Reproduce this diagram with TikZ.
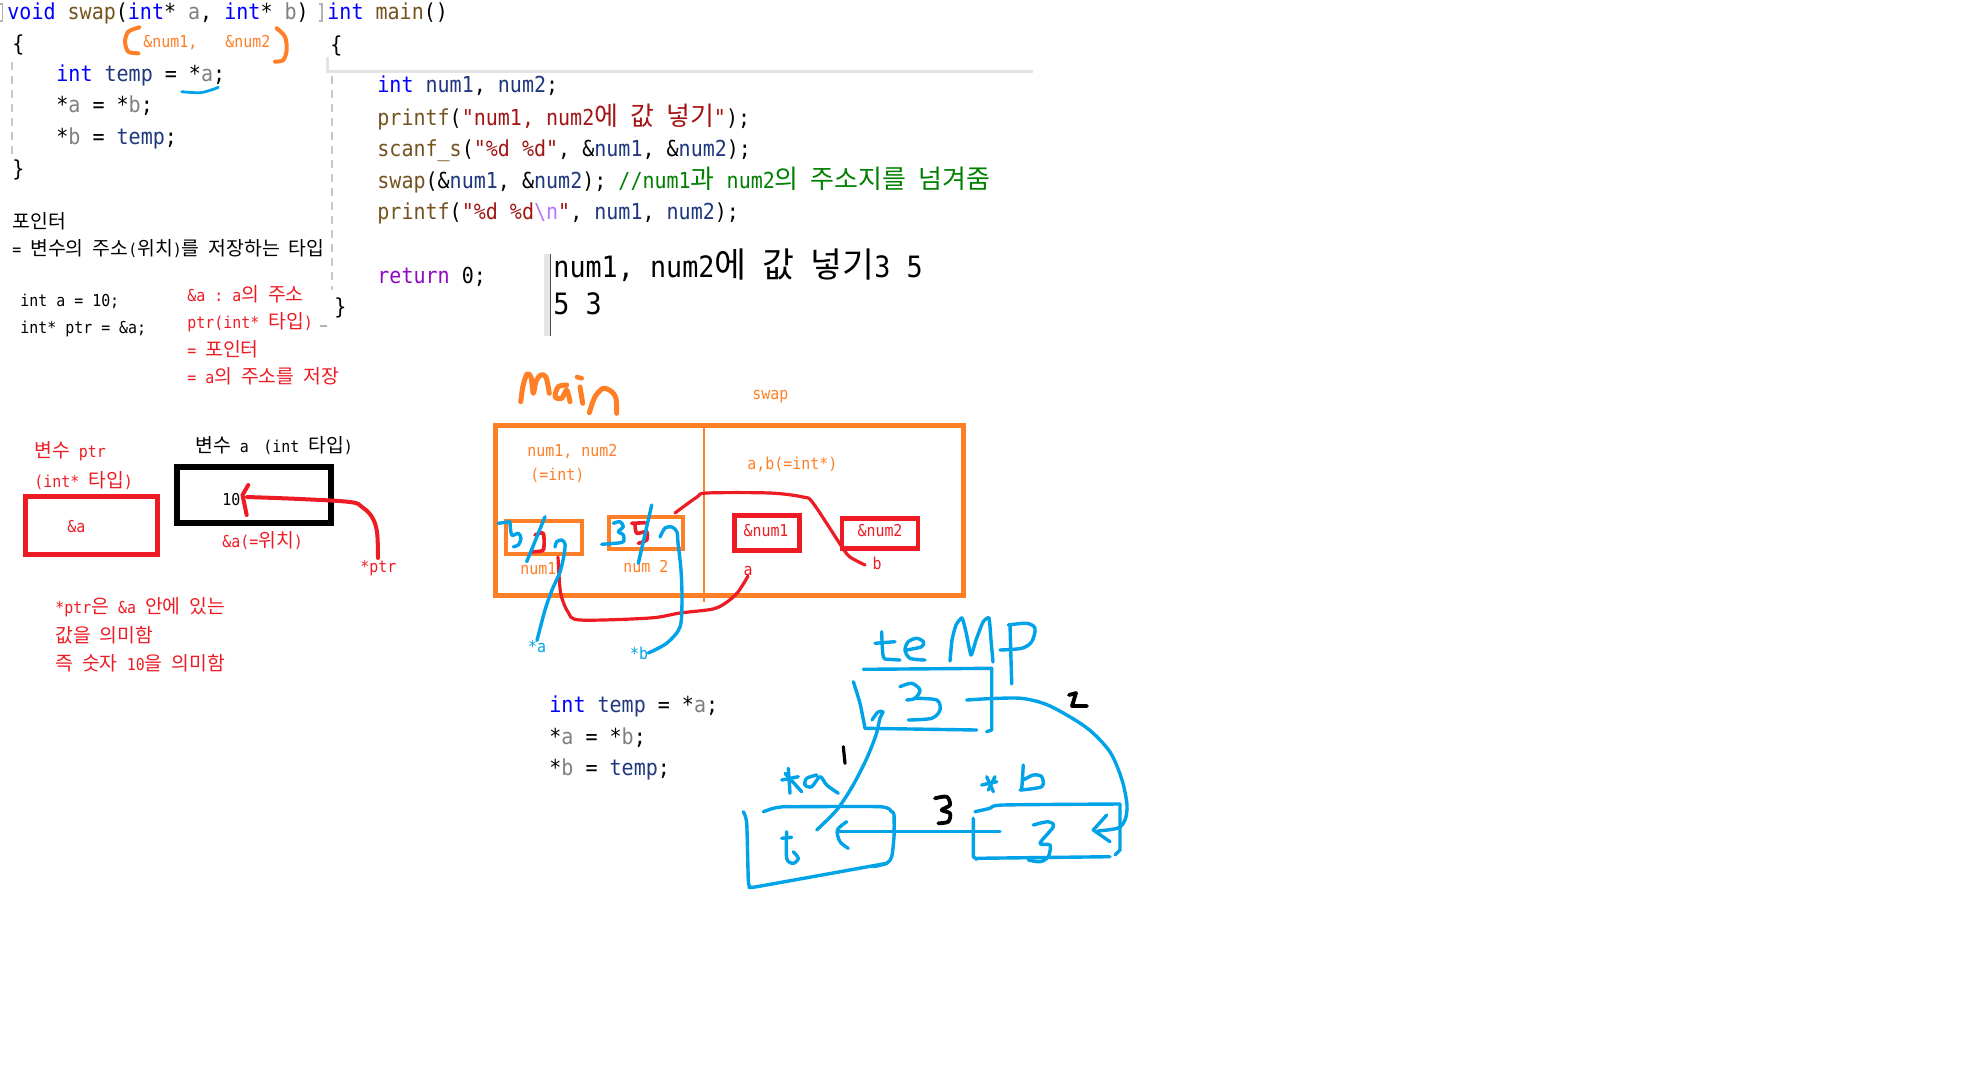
\documentclass[tikz,border=0pt]{standalone}
\usepackage{fontspec}
\setmonofont[FakeStretch=0.91]{DejaVu Sans Mono}
\newfontfamily\kr[Scale=1.18]{Noto Sans CJK KR}
\newcommand\K[1]{{\kr #1}}
\definecolor{ckw}{RGB}{0,0,255}
\definecolor{cfn}{RGB}{116,83,31}
\definecolor{cvr}{RGB}{31,55,127}
\definecolor{cpr}{RGB}{128,128,128}
\definecolor{cst}{RGB}{163,21,21}
\definecolor{ccm}{RGB}{0,128,0}
\definecolor{ces}{RGB}{183,118,251}
\definecolor{crt}{RGB}{143,8,196}
\definecolor{pred}{RGB}{237,28,36}
\definecolor{porg}{RGB}{255,127,39}
\definecolor{pblue}{RGB}{0,162,232}
\newcommand\KW[1]{\textcolor{ckw}{#1}}
\newcommand\FN[1]{\textcolor{cfn}{#1}}
\newcommand\VR[1]{\textcolor{cvr}{#1}}
\newcommand\PR[1]{\textcolor{cpr}{#1}}
\newcommand\ST[1]{\textcolor{cst}{#1}}
\newcommand\CM[1]{\textcolor{ccm}{#1}}
\newcommand\ES[1]{\textcolor{ces}{#1}}
\newcommand\RT[1]{\textcolor{crt}{#1}}
\newcommand\codefont{\ttfamily\fontsize{11}{13}\selectfont}
\newcommand\smallfont{\ttfamily\fontsize{8.2}{10}\selectfont}
\newcommand\confont{\ttfamily\fontsize{14.7}{18}\selectfont}
\begin{document}
\begin{tikzpicture}[x=0.5pt,y=-0.5pt,
  code/.style={anchor=base west,inner sep=0pt,font=\codefont},
  small/.style={anchor=base west,inner sep=0pt,font=\smallfont},
  smallc/.style={anchor=center,inner sep=0pt,font=\smallfont},
  con/.style={anchor=base west,inner sep=0pt,font=\confont},
  hand/.style={line cap=round,line join=round},
  bl/.style={hand,pblue,line width=1.7pt},
  rd/.style={hand,pred,line width=1.6pt},
  bk/.style={hand,black,line width=1.9pt}]
\fill[white] (0,0) rectangle (1964,1072);
\useasboundingbox (0,0) rectangle (1964,1072);

% editor decorations
\draw[gray!60,line width=0.6pt] (0,4)--(2.5,4)--(2.5,21)--(0,21);
\draw[gray!60,line width=0.6pt] (319,4)--(322,4)--(322,21)--(319,21);
\draw[gray!45,dash pattern=on 4pt off 3pt,line width=0.7pt] (12,62)--(12,158);
\draw[gray!45,dash pattern=on 4pt off 3pt,line width=0.7pt] (332,76)--(332,290);
\draw[gray!22,line width=1.5pt] (327,57)--(327,71)--(1033,71);
\draw[gray!60,line width=0.6pt] (320,326)--(327,326);

% swap function
\node[code] (sw1) at (7,19) {\KW{void} \FN{swap}(\KW{int}* \PR{a}, \KW{int}* \PR{b})};
\node[code] (sw2) at (12,51) {\{};
\node[code] (sw3) at (56,81.5) {\KW{int} \VR{temp} = *\PR{a};};
\node[code] (sw4) at (56,112.5) {*\PR{a} = *\PR{b};};
\node[code] (sw5) at (56,144) {*\PR{b} = \VR{temp};};
\node[code] (sw6) at (12,176) {\}};
% orange argument note
\node[small,text=porg] (an1) at (143,47) {\&num1,};
\node[small,text=porg] (an2) at (225,47) {\&num2};
\draw[hand,porg,line width=2pt] plot[smooth] coordinates {(139.3,27.3) (128.3,31.7) (125,41.7) (128.3,51.7) (138.3,53.3)};
\draw[hand,porg,line width=2pt] plot[smooth] coordinates {(276.7,28.3) (285,36.7) (286.7,50) (283.3,60) (275,61.7)};
\draw[bl,line width=1.4pt] plot[smooth] coordinates {(181.7,91.7) (200,92.7) (213.3,89.3) (218.3,87.3)};

% main function
\node[code] (mn1) at (327,19) {\KW{int} \FN{main}()};
\node[code] (mn2) at (330,52) {\{};
\node[code] (mn3) at (377,92) {\KW{int} \VR{num1}, \VR{num2};};
\node[code] (mn4) at (377,125) {\FN{printf}(\ST{"num1, num2\K{에} \K{값} \K{넣기}"});};
\node[code] (mn5) at (377,156) {\FN{scanf\_s}(\ST{"\%d \%d"}, \&\VR{num1}, \&\VR{num2});};
\node[code] (mn6) at (377,188) {\FN{swap}(\&\VR{num1}, \&\VR{num2}); \CM{//num1\K{과} num2\K{의} \K{주소지를} \K{넘겨줌}}};
\node[code] (mn7) at (377,219) {\FN{printf}(\ST{"\%d \%d}\ES{\textbackslash n}\ST{"}, \VR{num1}, \VR{num2});};
\node[code] (mn8) at (377,283) {\RT{return} 0;};
\node[code] (mn9) at (334,314) {\}};

% console
\fill[gray!20] (544,254) rectangle (550,336);
\draw[gray!60!black,line width=0.8pt] (550.5,254)--(550.5,336);
\node[con] (co1) at (553,277) {num1, num2\K{에} \K{값} \K{넣기}3 5};
\node[con] (co2) at (553,314) {5 3};

% pointer explanation
\node[small] (p1) at (12,228) {\K{포인터}};
\node[small] (p2) at (12,255) {= \K{변수의} \K{주소}(\K{위치})\K{를} \K{저장하는} \K{타입}};
\node[small] (p3) at (20,306) {int a = 10;};
\node[small] (p4) at (20,333) {int* ptr = \&a;};
\node[small,text=pred] (r1) at (187,301) {\&a : a\K{의} \K{주소}};
\node[small,text=pred] (r2) at (187,328) {ptr(int* \K{타입})};
\node[small,text=pred] (r3) at (187,356) {= \K{포인터}};
\node[small,text=pred] (r4) at (187,383) {= a\K{의} \K{주소를} \K{저장}};

% ptr / a boxes
\node[small,text=pred] (v1) at (34,457) {\K{변수} ptr};
\node[small,text=pred] (v2) at (34,487) {(int* \K{타입})};
\draw[pred,line width=2.5pt] (25,496) rectangle (157,554);
\node[small,text=pred] (va) at (67,532) {\&a};
\node[small] (v3) at (195,452) {\K{변수} a};
\node[small] (v4) at (263,452) {(int \K{타입})};
\draw[black,line width=3pt] (177,467) rectangle (331,523);
\node[small] (ten) at (222,505) {10};
\node[small,text=pred] (v5) at (222,547) {\&a(=\K{위치})};
\node[small,text=pred] (v6) at (360,572) {*ptr};
\draw[rd,line width=2pt] plot[smooth,tension=0.6] coordinates {(378,558) (377,532) (372,517) (362,507) (350,502) (300,499) (247,497)};
\draw[rd,line width=2pt] (248.3,485)--(242.5,495)--(246.7,515);
\node[small,text=pred] (e1) at (55,613) {*ptr\K{은} \&a \K{안에} \K{있는}};
\node[small,text=pred] (e2) at (55,642) {\K{값을} \K{의미함}};
\node[small,text=pred] (e3) at (55,670) {\K{즉} \K{숫자} 10\K{을} \K{의미함}};

% main / swap frames
\draw[hand,porg,line width=2.5pt] plot[smooth,tension=0.5] coordinates {(520.7,401.7) (523,386) (527,374) (531,377) (533.3,393.3) (536,381) (541,375) (546,377) (549.3,393.3)};
\draw[hand,porg,line width=2.5pt] plot[smooth,tension=0.5] coordinates {(566.7,385) (558.3,386.7) (555,396.7) (561.7,398.3) (566.7,390) (570,401.7)};
\draw[hand,porg,line width=2.3pt] (577,377)--(581.7,378.3);
\draw[hand,porg,line width=2.5pt] (580,387)--(582.7,403.3);
\draw[hand,porg,line width=2.5pt] plot[smooth,tension=0.5] coordinates {(589.3,412.7) (595,396.7) (603.3,388.3) (611.7,391.7) (616,398.3) (616.7,413.3)};
\node[small,text=porg] (swl) at (752,399) {swap};
\draw[porg,line width=2.5pt] (495,425) rectangle (963,595);
\draw[porg,line width=1.4pt] (704,428)--(704,602);
\node[small,text=porg] (o1) at (527,456.5) {num1, num2};
\node[small,text=porg] (o2) at (530,480) {(=int)};
\node[small,text=porg] (o3) at (747,469) {a,b(=int*)};
\draw[porg,line width=2pt] (506,521) rectangle (582,554);
\draw[porg,line width=2pt] (609,517) rectangle (683,549);
\node[small,text=porg] (o4) at (520,574) {num1};
\node[small,text=porg] (o5) at (623,572) {num 2};
\draw[pred,line width=2.3pt] (734.5,515.5) rectangle (799.5,550.5);
\draw[pred,line width=2.3pt] (842,518.5) rectangle (918,548.5);
\node[smallc,text=pred] (pn1) at (766,531) {\&num1};
\node[smallc,text=pred] (pn2) at (880,531) {\&num2};
\node[smallc,text=pred] (la) at (748,571) {a};
\node[smallc,text=pred] (lb) at (877,563) {b};
\node[smallc,text=pblue] (sa) at (537,647) {*a};
\node[smallc,text=pblue] (sb) at (639,653) {*b};

% red pointer curves
\draw[rd] plot[smooth,tension=0.5] coordinates {(la.south) (738,592) (727,602) (713,609) (680,613) (650,618) (580,620) (568,612) (561,595) (559,575) (558,557)};
\draw[rd] plot[smooth,tension=0.5] coordinates {(865,565) (850,557) (842,547) (813,503) (803,497) (770,493) (707,493) (697,497) (675,513)};
% values in num boxes
\draw[rd,line width=1.8pt] plot[smooth,tension=0.4] coordinates {(535,535) (543.3,533.3) (543.3,550) (531.7,551.7)};
\draw[rd,line width=1.8pt] (631.7,523.3)--(645,522.7);
\draw[rd,line width=1.8pt] plot[smooth,tension=0.4] coordinates {(635,525) (636.7,533.3) (646.7,531.7) (646.7,540) (638.3,543.3)};
\draw[bl] (498.3,523.3)--(510,521.7);
\draw[bl] plot[smooth,tension=0.5] coordinates {(510,522.7) (511.7,535) (518.3,533.3) (521,538.3) (518.3,545) (513.3,546.7)};
\draw[bl] (526.7,561.7)--(545,516.7);
\draw[bl] plot[smooth,tension=0.5] coordinates {(sa.north) (545,610) (552,590) (560,572) (564,555) (565,544) (561.7,540) (556.7,541.7) (555,547)};
\draw[bl] plot[smooth,tension=0.5] coordinates {(613.3,523.3) (620,521.7) (623.3,526.7) (618.3,531.7) (623.3,535) (623.3,541.7) (615,543.3)};
\draw[bl] (601.7,544.3)--(615,543.3);
\draw[bl] (638.3,563.3)--(651.7,505);
\draw[bl] plot[smooth,tension=0.5] coordinates {(sb.east) (667,643) (680,627) (682,600) (681,570) (678,543) (677,532) (672,527) (665,528) (660,537)};

% swap body copy
\node[code] (t1) at (549,712) {\KW{int} \VR{temp} = *\PR{a};};
\node[code] (t2) at (549,744) {*\PR{a} = *\PR{b};};
\node[code] (t3) at (549,775) {*\PR{b} = \VR{temp};};

% temp sketch
\draw[bl] plot[smooth,tension=0.5] coordinates {(881.7,631.7) (883.3,656.7) (890,659.3) (900,660)};
\draw[bl] (875,643.3)--(895,641.7);
\draw[bl] plot[smooth,tension=0.5] coordinates {(906.7,650) (921.7,646.7) (923.3,641.7) (916.7,638.3) (908.3,641.7) (905,650) (910,658.3) (925,660)};
\draw[bl] plot[smooth,tension=0.3] coordinates {(950,661) (952,640) (956,625) (962,618) (966,632) (971,655) (976,640) (983,622) (989,618) (991,640) (993,662)};
\draw[bl] (1010,625)--(1011.7,684);
\draw[bl] plot[smooth,tension=0.5] coordinates {(1008.3,625) (1026.7,623.3) (1035,628.3) (1031.7,641.7) (1021.7,648.3) (1000,650)};
\draw[bl] (863.3,669.3)--(991.7,668.3)--(991.7,730)--(986.7,731.7);
\draw[bl] (976.7,730)--(865,728.3);
\draw[bl] plot[smooth,tension=0.4] coordinates {(853.3,681.7) (860,703.3) (865,728.3)};
\draw[bl] plot[smooth,tension=0.5] coordinates {(900,686.7) (911.7,683.3) (920,690) (915,698.3) (906.7,700)};
\draw[bl] plot[smooth,tension=0.5] coordinates {(915,698.3) (936.7,700) (940,710) (931.7,718.3) (908.3,720)};
\draw[bl] plot[smooth,tension=0.5] coordinates {(966.7,700) (993,698.5) (1023,698.5) (1050,706) (1087,728) (1110,752) (1122,780) (1127,805) (1125,820) (1118,828) (1098,831)};
\draw[bl] (1106.7,815)--(1093.3,830)--(1110,841.7);
\draw[bk] (1069,695)--(1076,693)--(1072,706)--(1087,706);
% *a box
\draw[bl] plot[smooth,tension=0.5] coordinates {(781.7,780) (798.3,776.7)};
\draw[bl] (788.3,768.3)--(790,793.3);
\draw[bl] (785,773.3)--(801.7,791.7);
\draw[bl] plot[smooth,tension=0.5] coordinates {(816.7,775) (806.7,778.3) (805,785) (811.7,786.7) (820,776.7) (826.7,785) (838.3,793.3)};
\draw[bl] plot[smooth,tension=0.4] coordinates {(763.3,811.7) (773.3,808.3) (783.3,806.7) (795,806.7) (880,806.7) (891.7,811.7) (894,815) (894,836.7) (891.7,856.7) (886.7,863.3) (873.3,866.7)};
\draw[bl] plot[smooth,tension=0.3] coordinates {(886.7,863.3) (756.7,886.7) (750,886.7)};
\draw[bl] plot[smooth,tension=0.4] coordinates {(743.3,811.7) (746.7,823.3) (748.3,880) (750,886.7)};
\draw[bl] (781.7,838.3)--(791.7,837.3);
\draw[bl] plot[smooth,tension=0.5] coordinates {(786.7,831.7) (786.7,858.3) (793.3,863.3) (798.3,858.3) (793.3,851.7)};
\draw[bl] plot[smooth,tension=0.5] coordinates {(816.7,830) (836.7,810) (852,787) (866,760) (876,735) (880,718) (883,712) (878,712) (872,720)};
\draw[bk,line width=1.6pt] (843.3,746.7)--(845,763.3);
% arrow 3
\draw[bl] (1000,831.7)--(838.3,831.7);
\draw[bl] plot[smooth,tension=0.5] coordinates {(846.7,821.7) (837.3,830) (840,841.7) (848.3,848.3)};
\draw[bk] plot[smooth,tension=0.5] coordinates {(935,798.3) (946.7,796.7) (950,805) (941.7,810) (950,813.3) (948.3,821.7) (938.3,823.3)};
% *b box
\draw[bl] (981.7,785)--(996.7,781.7);
\draw[bl] (986.7,776.7)--(993.3,791.7);
\draw[bl] (988.3,790)--(995,776.7);
\draw[bl] (1023.3,765)--(1021.7,790);
\draw[bl] plot[smooth,tension=0.5] coordinates {(1023.3,780) (1033.3,775) (1041.7,776.7) (1041.7,786.7) (1020,790)};
\draw[bl] plot[smooth,tension=0.4] coordinates {(975,811.7) (990,808.3) (1003.3,805) (1120,804)};
\draw[bl] (1120,804)--(1120,850)--(1115,855);
\draw[bl] (1110,856.7)--(976.7,858.3);
\draw[bl] (973.3,818.3)--(973.3,856.7)--(976.7,859.3);
\draw[bl] plot[smooth,tension=0.5] coordinates {(1033.3,825) (1048.3,821.7) (1053.3,826.7) (1040,843.3) (1050,845) (1048.3,856.7) (1040,861.7) (1028.3,860)};
\end{tikzpicture}
\end{document}
